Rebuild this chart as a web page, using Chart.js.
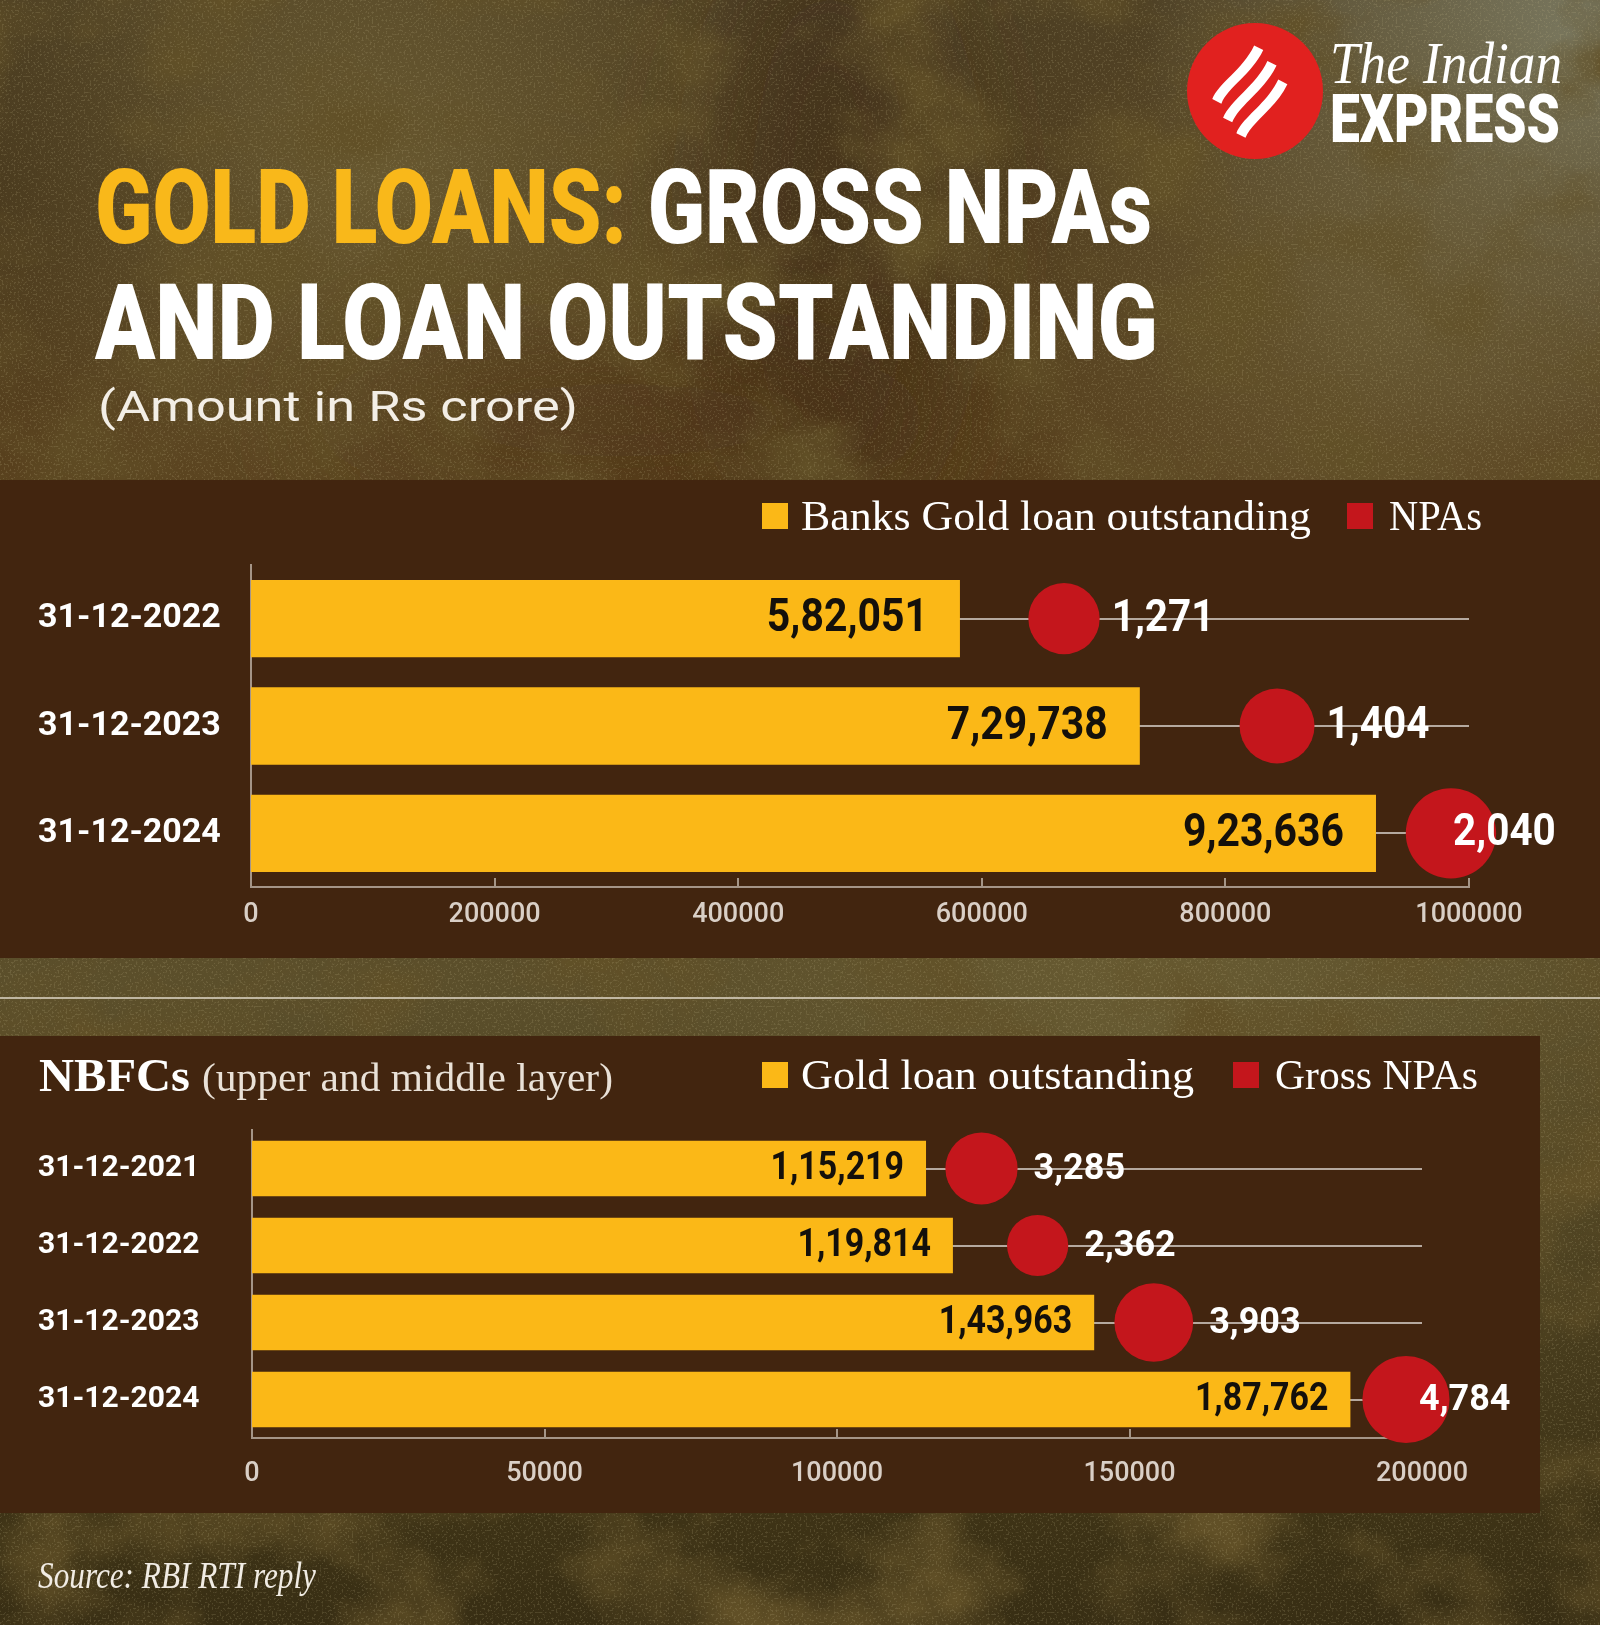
<!DOCTYPE html>
<html>
<head>
<meta charset="utf-8">
<script src="https://cdn.jsdelivr.net/npm/chart.js@4.4.1/dist/chart.umd.min.js"></script>
<style>
html,body{margin:0;padding:0;background:#4a3a20;}
#page{position:relative;width:1600px;height:1625px;overflow:hidden;}
#bg,#fg{position:absolute;left:0;top:0;}
#fg{pointer-events:none;}
.panel{position:absolute;background:#42250f;}
.wrap{position:absolute;}
.wrap canvas{position:absolute;left:0;top:0;}
</style>
</head>
<body>
<div id="page">
<svg id="bg" width="1600" height="1625" xmlns="http://www.w3.org/2000/svg">
  <defs>
    <linearGradient id="gBase" x1="0" y1="0" x2="0" y2="1625" gradientUnits="userSpaceOnUse">
      <stop offset="0" stop-color="#4e4024"/>
      <stop offset="0.29" stop-color="#58401d"/>
      <stop offset="0.61" stop-color="#5b4f2b"/>
      <stop offset="0.93" stop-color="#3e3316"/>
      <stop offset="1" stop-color="#382e14"/>
    </linearGradient>
    <radialGradient id="rOlive" cx="380" cy="170" r="430" gradientUnits="userSpaceOnUse">
      <stop offset="0" stop-color="#6c5d33" stop-opacity="0.85"/>
      <stop offset="1" stop-color="#6c5d33" stop-opacity="0"/>
    </radialGradient>
    <radialGradient id="rGrey" cx="1560" cy="40" r="420" gradientUnits="userSpaceOnUse">
      <stop offset="0" stop-color="#7b7a62" stop-opacity="0.95"/>
      <stop offset="1" stop-color="#7b7a62" stop-opacity="0"/>
    </radialGradient>
    <radialGradient id="rRight" cx="1380" cy="330" r="380" gradientUnits="userSpaceOnUse">
      <stop offset="0" stop-color="#6a5b34" stop-opacity="0.8"/>
      <stop offset="1" stop-color="#6a5b34" stop-opacity="0"/>
    </radialGradient>
    <radialGradient id="rLeft" cx="0" cy="180" r="260" gradientUnits="userSpaceOnUse">
      <stop offset="0" stop-color="#33291567" stop-opacity="0.7"/>
      <stop offset="1" stop-color="#332915" stop-opacity="0"/>
    </radialGradient>
    <radialGradient id="rMid" cx="1150" cy="990" r="520" gradientUnits="userSpaceOnUse">
      <stop offset="0" stop-color="#6b5e34" stop-opacity="0.8"/>
      <stop offset="1" stop-color="#6b5e34" stop-opacity="0"/>
    </radialGradient>
    <filter id="blur" x="-50%" y="-50%" width="200%" height="200%">
      <feGaussianBlur stdDeviation="60"/>
    </filter>
    <filter id="grain" x="0" y="0" width="1600" height="1625" filterUnits="userSpaceOnUse">
      <feTurbulence type="fractalNoise" baseFrequency="0.007 0.009" numOctaves="5" seed="11" result="n"/>
      <feColorMatrix in="n" type="matrix" values="0 0 0 0 0.12  0 0 0 0 0.08  0 0 0 0 0.02  0 0 0 2.6 -1.1"/>
    </filter>
    <filter id="speck" x="0" y="0" width="1600" height="1625" filterUnits="userSpaceOnUse">
      <feTurbulence type="fractalNoise" baseFrequency="0.5" numOctaves="2" seed="5" result="n"/>
      <feColorMatrix in="n" type="matrix" values="0 0 0 0 0.55  0 0 0 0 0.48  0 0 0 0 0.26  0 0 0 7 -3.9"/>
    </filter>
  </defs>
  <rect width="1600" height="1625" fill="url(#gBase)"/>
  <rect width="1600" height="1625" fill="url(#rOlive)"/>
  <rect width="1600" height="1625" fill="url(#rGrey)"/>
  <rect width="1600" height="1625" fill="url(#rRight)"/>
  <rect width="1600" height="1625" fill="url(#rLeft)"/>
  <rect width="1600" height="1625" fill="url(#rMid)"/>
  <ellipse cx="830" cy="230" rx="120" ry="300" fill="#3c2914" opacity="0.55" filter="url(#blur)"/>
  <ellipse cx="620" cy="420" rx="300" ry="80" fill="#4e3216" opacity="0.5" filter="url(#blur)"/>
  <rect width="1600" height="1625" filter="url(#grain)"/>
  <rect width="1600" height="1625" filter="url(#speck)" opacity="0.18"/>
  <line x1="0" y1="998" x2="1600" y2="998" stroke="#d8cfbf" stroke-opacity="0.8" stroke-width="2"/>
</svg>

<div class="panel" style="left:0;top:480px;width:1600px;height:478px"></div>
<div class="panel" style="left:0;top:1036px;width:1540px;height:477px"></div>

<div class="wrap" style="left:0;top:480px;width:1600px;height:478px"><canvas id="cBanks" width="1600" height="478"></canvas></div>
<div class="wrap" style="left:0;top:1036px;width:1540px;height:477px"><canvas id="cNbfc" width="1540" height="477"></canvas></div>

<svg id="fg" width="1600" height="1625" xmlns="http://www.w3.org/2000/svg">
  <!-- logo -->
  <circle cx="1255" cy="91" r="68" fill="#e1211f"/>
  <g transform="translate(1250,93) rotate(-52)" fill="#ffffff">
    <path d="M -34 -26 C -18 -31, 8 -20, 34 -26 L 36 -16 C 10 -10, -16 -21, -32 -16 Z" transform="translate(6,0)"/>
    <path d="M -36 -6 C -18 -11, 10 0, 36 -6 L 38 4 C 12 10, -16 -1, -34 4 Z"/>
    <path d="M -34 14 C -18 9, 8 20, 34 14 L 36 24 C 10 30, -16 19, -32 24 Z" transform="translate(-6,0)"/>
  </g>
  <text x="1330" y="83" font-family="Liberation Serif, DejaVu Serif, serif" font-style="italic" font-size="60" fill="#ffffff" textLength="232" lengthAdjust="spacingAndGlyphs">The Indian</text>
  <text x="1330" y="142" font-family="Roboto, sans-serif" font-weight="900" font-size="66" fill="#ffffff" textLength="230" lengthAdjust="spacingAndGlyphs">EXPRESS</text>

  <!-- titles -->
  <text x="95" y="243" font-family="Roboto, sans-serif" font-weight="900" font-size="103" textLength="1057" lengthAdjust="spacingAndGlyphs" xml:space="preserve"><tspan fill="#f9b81a">GOLD LOANS:</tspan><tspan fill="#ffffff"> GROSS NPAs</tspan></text>
  <text x="95" y="359" font-family="Roboto, sans-serif" font-weight="900" font-size="106" fill="#ffffff" textLength="1063" lengthAdjust="spacingAndGlyphs">AND LOAN OUTSTANDING</text>
  <text x="98" y="421" font-family="Roboto, sans-serif" font-weight="400" font-size="43" fill="#f3eee6" textLength="480" lengthAdjust="spacingAndGlyphs">(Amount in Rs crore)</text>

  <!-- legend: banks -->
  <rect x="762" y="503" width="26" height="26" fill="#fbb817"/>
  <text x="801" y="530" font-family="Liberation Serif, DejaVu Serif, serif" font-size="43" fill="#ffffff" textLength="510" lengthAdjust="spacingAndGlyphs">Banks Gold loan outstanding</text>
  <rect x="1347" y="503" width="26" height="26" fill="#c4161c"/>
  <text x="1389" y="530" font-family="Liberation Serif, DejaVu Serif, serif" font-size="43" fill="#ffffff" textLength="93" lengthAdjust="spacingAndGlyphs">NPAs</text>

  <!-- NBFC heading + legend -->
  <text x="39" y="1091" font-family="Liberation Serif, DejaVu Serif, serif" font-weight="700" font-size="47" fill="#ffffff" textLength="151" lengthAdjust="spacingAndGlyphs">NBFCs</text>
  <text x="202" y="1091" font-family="Liberation Serif, DejaVu Serif, serif" font-size="40" fill="#e9e1d7" textLength="411" lengthAdjust="spacingAndGlyphs">(upper and middle layer)</text>
  <rect x="762" y="1062" width="26" height="26" fill="#fbb817"/>
  <text x="801" y="1089" font-family="Liberation Serif, DejaVu Serif, serif" font-size="43" fill="#ffffff" textLength="393" lengthAdjust="spacingAndGlyphs">Gold loan outstanding</text>
  <rect x="1233" y="1062" width="26" height="26" fill="#c4161c"/>
  <text x="1275" y="1089" font-family="Liberation Serif, DejaVu Serif, serif" font-size="43" fill="#ffffff" textLength="203" lengthAdjust="spacingAndGlyphs">Gross NPAs</text>

  <!-- source -->
  <text x="38" y="1588" font-family="Liberation Serif, DejaVu Serif, serif" font-style="italic" font-size="37" fill="#f1ece4" textLength="278" lengthAdjust="spacingAndGlyphs">Source: RBI RTI reply</text>
</svg>
</div>

<script>
// ---------- DATA ----------
const bankDates = ['31-12-2022', '31-12-2023', '31-12-2024'];
const bankLoanOutstanding = [582051, 729738, 923636];
const bankNpas = [1271, 1404, 2040];
const bankNpaMarkerAt = [667500, 842400, 985200];   // where the NPA dot sits along the loan axis
const bankAxisTicks = [0, 200000, 400000, 600000, 800000, 1000000];

const nbfcDates = ['31-12-2021', '31-12-2022', '31-12-2023', '31-12-2024'];
const nbfcLoanOutstanding = [115219, 119814, 143963, 187762];
const nbfcGrossNpas = [3285, 2362, 3903, 4784];
const nbfcNpaMarkerAt = [124700, 134300, 154150, 197260];
const nbfcAxisTicks = [0, 50000, 100000, 150000, 200000];

// ---------- STYLE ----------
const YELLOW = '#fbb817';
const RED = '#c4161c';
const GRID = '#b5a99f';
const AXIS = '#a59587';
const TICK_TXT = '#d9cfc6';

function fmtIndian(n) {
  const s = String(Math.round(n));
  if (s.length <= 3) return s;
  const last3 = s.slice(-3);
  const rest = s.slice(0, -3).replace(/\B(?=(\d{2})+(?!\d))/g, ',');
  return rest + ',' + last3;
}

function drawText(ctx, txt, x, y, font, sx, align, color) {
  ctx.save();
  ctx.font = font;
  ctx.fillStyle = color;
  ctx.textAlign = align;
  ctx.textBaseline = 'middle';
  ctx.translate(x, y);
  ctx.scale(sx, 1);
  ctx.fillText(txt, 0, 0);
  ctx.restore();
}

const valueLabels = {
  id: 'valueLabels',
  afterDatasetsDraw(chart, args, o) {
    const ctx = chart.ctx;
    const bars = chart.getDatasetMeta(0).data;
    const dots = chart.getDatasetMeta(1).data;
    const loans = chart.data.datasets[0].data;
    const npas = chart.data.datasets[1].data;
    bars.forEach((el, i) => {
      drawText(ctx, fmtIndian(loans[i]), el.x - o.barPad, el.y + 1, o.barFont, o.barScaleX, 'right', '#14100b');
    });
    dots.forEach((el, i) => {
      const txt = fmtIndian(npas[i].v);
      ctx.save();
      ctx.font = o.npaFont;
      const w = ctx.measureText(txt).width * o.npaScaleX;
      ctx.restore();
      const r = npas[i].r;
      let x = el.x + r + o.npaGap;
      if (x + w > o.npaLimit) x = el.x + o.npaInside;
      drawText(ctx, txt, x, el.y + 1, o.npaFont, o.npaScaleX, 'left', '#ffffff');
    });
  }
};

const innerTicks = {
  id: 'innerTicks',
  beforeDatasetsDraw(chart) {
    const s = chart.scales.x;
    const ctx = chart.ctx;
    const b = chart.chartArea.bottom;
    ctx.save();
    ctx.strokeStyle = AXIS;
    ctx.lineWidth = 2;
    s.ticks.forEach(t => {
      if (t.value === 0) return;
      const x = Math.round(s.getPixelForValue(t.value));
      ctx.beginPath();
      ctx.moveTo(x, b - 9);
      ctx.lineTo(x, b);
      ctx.stroke();
    });
    ctx.restore();
  }
};

function buildChart(id, o) {
  return new Chart(document.getElementById(id), {
    type: 'bar',
    data: {
      labels: o.labels,
      datasets: [
        {
          type: 'bar',
          label: o.barLabel,
          data: o.loans,
          backgroundColor: YELLOW,
          borderWidth: 0,
          barPercentage: 0.72,
          categoryPercentage: 1
        },
        {
          type: 'bubble',
          label: o.npaLabel,
          data: o.npas.map((v, i) => ({ x: o.markerAt[i], y: o.labels[i], r: Math.sqrt(v) * o.rScale, v: v })),
          backgroundColor: RED,
          borderWidth: 0,
          clip: false
        }
      ]
    },
    options: {
      responsive: false,
      animation: false,
      indexAxis: 'y',
      events: [],
      layout: { padding: o.padding },
      plugins: {
        legend: { display: false },
        tooltip: { enabled: false },
        valueLabels: o.labelOpts
      },
      scales: {
        x: {
          type: 'linear',
          position: 'bottom',
          min: o.ticks[0],
          max: o.ticks[o.ticks.length - 1],
          afterBuildTicks: s => { s.ticks = o.ticks.map(v => ({ value: v })); },
          afterFit: s => { s.height = o.xAxisH; },
          grid: { display: false, drawTicks: false },
          border: { display: true, color: AXIS, width: 2 },
          ticks: {
            color: TICK_TXT,
            padding: o.tickPad,
            maxRotation: 0,
            autoSkip: false,
            font: { family: 'Roboto', size: 27, weight: '500' },
            callback: v => String(v)
          }
        },
        y: {
          type: 'category',
          offset: true,
          afterFit: s => { s.width = o.yAxisW; },
          grid: { offset: false, color: GRID, lineWidth: 2, drawTicks: false },
          border: { display: true, color: AXIS, width: 2 },
          ticks: {
            color: '#ffffff',
            crossAlign: 'far',
            padding: 0,
            font: { family: 'Roboto', size: o.catFont, weight: 'bold' }
          }
        }
      }
    },
    plugins: [innerTicks, valueLabels]
  });
}

function go() {
  buildChart('cBanks', {
    labels: bankDates,
    loans: bankLoanOutstanding,
    npas: bankNpas,
    markerAt: bankNpaMarkerAt,
    ticks: bankAxisTicks,
    barLabel: 'Banks Gold loan outstanding',
    npaLabel: 'NPAs',
    rScale: 1.0,
    padding: { left: 38, right: 131, top: 85, bottom: 11 },
    yAxisW: 213,
    xAxisH: 60,
    tickPad: 12,
    catFont: 34,
    labelOpts: {
      barFont: 'bold 46px Roboto', barScaleX: 0.89, barPad: 32,
      npaFont: 'bold 44px Roboto', npaScaleX: 0.92, npaGap: 12, npaLimit: 1560, npaInside: 2
    }
  });
  buildChart('cNbfc', {
    labels: nbfcDates,
    loans: nbfcLoanOutstanding,
    npas: nbfcGrossNpas,
    markerAt: nbfcNpaMarkerAt,
    ticks: nbfcAxisTicks,
    barLabel: 'Gold loan outstanding',
    npaLabel: 'Gross NPAs',
    rScale: 0.63,
    padding: { left: 38, right: 118, top: 94, bottom: 15 },
    yAxisW: 214,
    xAxisH: 60,
    tickPad: 20,
    catFont: 30,
    labelOpts: {
      barFont: 'bold 39px Roboto', barScaleX: 0.87, barPad: 22,
      npaFont: 'bold 36px Roboto', npaScaleX: 1.0, npaGap: 16, npaLimit: 1520, npaInside: 13
    }
  });
}

Promise.all([
  document.fonts.load('bold 46px Roboto'),
  document.fonts.load('500 27px Roboto'),
  document.fonts.load('900 100px Roboto'),
  document.fonts.load('43px "Liberation Serif"'),
  document.fonts.load('italic 43px "Liberation Serif"'),
  document.fonts.load('bold 43px "Liberation Serif"')
]).then(go, go);
</script>
</body>
</html>
